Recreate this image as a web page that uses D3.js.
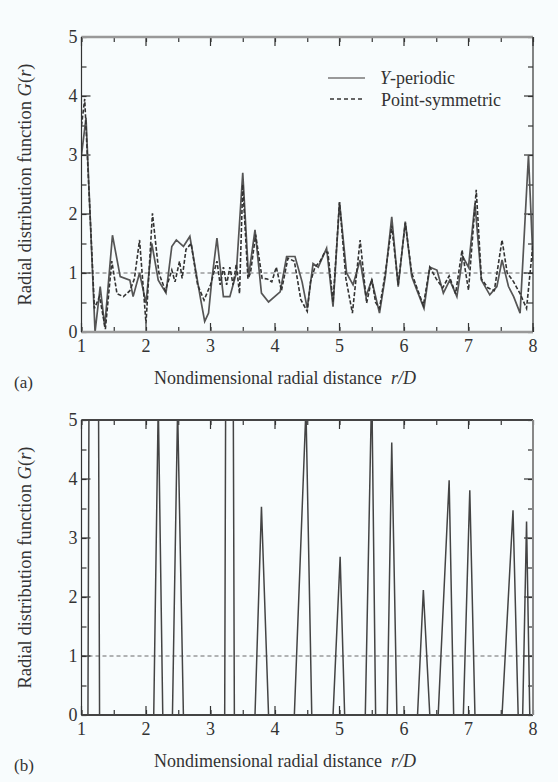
<!DOCTYPE html>
<html><head><meta charset="utf-8">
<script src="https://cdn.jsdelivr.net/npm/d3@7"></script>
<style>
html,body{margin:0;padding:0;background:#f8fcfd;}
svg{display:block;}
text{font-family:"Liberation Serif","DejaVu Serif",serif;fill:#333;}
</style></head>
<body>
<svg id="chart" width="558" height="782"></svg>
<script>
// Panel (a): Y-periodic (solid)
const rYper = [1.0,1.07,1.21,1.29,1.36,1.48,1.6,1.75,1.8,1.9,2.0,2.09,2.19,2.31,2.4,2.47,2.58,2.68,2.84,2.91,2.97,3.02,3.1,3.2,3.3,3.4,3.5,3.59,3.69,3.79,3.9,4.08,4.18,4.31,4.42,4.5,4.59,4.67,4.8,4.9,5.0,5.11,5.21,5.32,5.41,5.5,5.62,5.71,5.81,5.91,6.02,6.12,6.2,6.31,6.4,6.51,6.61,6.71,6.82,6.91,7.0,7.1,7.2,7.33,7.44,7.52,7.62,7.7,7.8,7.93,8.0];
const gYper = [3.0,3.63,0.0,0.77,0.09,1.64,0.94,0.88,0.6,1.0,0.49,1.5,0.88,0.66,1.45,1.56,1.45,1.62,0.6,0.18,0.32,0.88,1.59,0.6,0.6,1.0,2.7,0.94,1.73,0.66,0.51,0.68,1.28,1.28,0.85,0.4,1.16,1.1,1.42,0.43,2.2,1.0,0.8,1.22,0.6,0.88,0.32,0.94,1.95,0.77,1.87,0.94,0.71,0.4,1.1,1.05,0.66,0.88,0.6,1.28,1.1,2.18,0.88,0.63,0.77,1.22,0.77,0.6,0.32,3.0,1.2];
// Panel (a): Point-symmetric (dashed)
const rPsym = [1.0,1.05,1.2,1.28,1.37,1.47,1.55,1.65,1.75,1.82,1.9,2.0,2.1,2.2,2.3,2.4,2.45,2.52,2.56,2.62,2.7,2.8,2.9,3.0,3.05,3.1,3.15,3.2,3.25,3.3,3.35,3.4,3.45,3.5,3.58,3.62,3.7,3.8,3.88,3.95,4.02,4.1,4.2,4.3,4.4,4.5,4.55,4.62,4.7,4.77,4.82,4.9,5.0,5.1,5.2,5.32,5.42,5.5,5.56,5.62,5.71,5.81,5.91,6.02,6.12,6.2,6.3,6.4,6.5,6.6,6.7,6.8,6.9,6.95,7.0,7.12,7.2,7.3,7.4,7.52,7.6,7.7,7.8,7.9,8.0];
const gPsym = [3.5,3.95,0.4,0.6,0.05,1.2,0.65,0.6,0.7,0.9,1.56,0.15,2.01,1.0,0.7,1.05,0.85,1.2,0.91,1.4,1.5,0.8,0.54,0.8,1.0,1.2,0.8,1.1,0.8,1.1,0.8,1.15,0.65,2.5,0.9,1.0,1.65,0.91,0.9,0.85,1.1,0.7,1.25,1.2,0.55,0.35,0.85,1.1,1.2,1.35,1.35,0.5,2.2,0.9,0.32,1.56,0.49,0.9,0.5,0.4,1.0,1.8,0.8,1.85,1.0,0.75,0.45,1.1,0.9,0.75,0.95,0.65,1.39,1.05,0.71,2.41,0.9,0.75,0.7,1.56,1.0,0.85,0.65,0.4,1.5];
// Panel (b): single series (spikes, clipped at 5)
const rB = [1.0,1.10,1.19,1.28,2.12,2.19,2.26,2.41,2.49,2.58,3.22,3.29,3.37,3.69,3.79,3.90,4.30,4.48,4.57,4.90,5.01,5.08,5.40,5.50,5.56,5.74,5.81,5.89,6.21,6.30,6.40,6.53,6.70,6.77,6.92,7.02,7.10,7.52,7.69,7.77,7.84,7.90,7.95,8.0];
const gB = [0,0,30,0,0,5.3,0,0,5.2,0,0,25,0,0,3.53,0,0,5.2,0,0,2.68,0,0,5.6,0,0,4.62,0,0,2.12,0,0,3.98,0,0,3.81,0,0,3.47,0,0,3.28,0,0];

const xTicks = [1,2,3,4,5,6,7,8];
const yTicks = [0,1,2,3,4,5];
const legendLabels = ["Y-periodic","Point-symmetric"];

const svg = d3.select("#chart");
const X0 = 81.5, X1 = 533;

function panel(id, yTop, yBot, label) {
  const x = d3.scaleLinear().domain([1,8]).range([X0,X1]);
  const y = d3.scaleLinear().domain([0,5]).range([yBot,yTop]);
  const g = svg.append("g");
  g.append("clipPath").attr("id","clip"+id).append("rect")
    .attr("x",X0).attr("y",yTop).attr("width",X1-X0).attr("height",yBot-yTop);
  // reference line G=1
  g.append("line").attr("x1",X0).attr("x2",X1).attr("y1",y(1)).attr("y2",y(1))
    .attr("stroke","#444").attr("stroke-width",0.8).attr("stroke-dasharray","4,3");
  // axes (ticks inward)
  const half = d3.range(1,8.01,0.5);
  const bottomAx = d3.axisBottom(x).tickValues(half).tickSize(-5).tickFormat("");
  const topAx = d3.axisTop(x).tickValues(half).tickSize(-5).tickFormat("");
  const yHalf = d3.range(0,5.01,0.5);
  const leftAx = d3.axisLeft(y).tickValues(yHalf).tickSize(-5).tickFormat("");
  const rightAx = d3.axisRight(y).tickValues(yHalf).tickSize(-5).tickFormat("");
  const ax = [
    [bottomAx, `translate(0,${yBot})`],
    [topAx, `translate(0,${yTop})`],
    [leftAx, `translate(${X0},0)`],
    [rightAx, `translate(${X1},0)`]
  ];
  ax.forEach(([a,t]) => {
    const s = g.append("g").attr("transform",t).call(a);
    s.select(".domain").remove();
    s.selectAll("line").attr("stroke","#333").attr("stroke-width",1.2);
  });
  // longer major ticks
  const maj = g.append("g");
  xTicks.forEach(v => {
    maj.append("line").attr("x1",x(v)).attr("x2",x(v)).attr("y1",yBot).attr("y2",yBot-9).attr("stroke","#333").attr("stroke-width",1.2);
    maj.append("line").attr("x1",x(v)).attr("x2",x(v)).attr("y1",yTop).attr("y2",yTop+9).attr("stroke","#333").attr("stroke-width",1.2);
  });
  yTicks.forEach(v => {
    maj.append("line").attr("x1",X0).attr("x2",X0+9).attr("y1",y(v)).attr("y2",y(v)).attr("stroke","#333").attr("stroke-width",1.2);
    maj.append("line").attr("x1",X1).attr("x2",X1-9).attr("y1",y(v)).attr("y2",y(v)).attr("stroke","#333").attr("stroke-width",1.2);
  });
  // tick labels
  g.selectAll(".xl").data(xTicks).enter().append("text")
    .attr("x",d=>x(d)).attr("y",yBot+20).attr("text-anchor","middle")
    .attr("font-size",18).text(d=>d);
  g.selectAll(".yl").data(yTicks).enter().append("text")
    .attr("x",X0-4).attr("y",d=>y(d)+6).attr("text-anchor","end")
    .attr("font-size",18).text(d=>d);
  // titles
  const xt = g.append("text").attr("x",285).attr("y",yBot+52).attr("text-anchor","middle").attr("font-size",18);
  xt.append("tspan").text("Nondimensional radial distance\u2002");
  xt.append("tspan").attr("font-style","italic").text("r/D");
  const yc = (yTop+yBot)/2;
  const yt = g.append("text").attr("transform",`translate(31,${yc}) rotate(-90)`).attr("text-anchor","middle").attr("font-size",18.5);
  yt.append("tspan").text("Radial distribution function ");
  yt.append("tspan").attr("font-style","italic").text("G");
  yt.append("tspan").text("(");
  yt.append("tspan").attr("font-style","italic").text("r");
  yt.append("tspan").text(")");
  g.append("text").attr("x",14).attr("y",yBot+56).attr("font-size",17).text(label);
  return {g,x,y};
}

// Panel (a)
const A = panel("a",37,332,"(a)");
const lineA = d3.line().x(d=>A.x(d[0])).y(d=>A.y(d[1]));
const plotA = A.g.append("g").attr("clip-path","url(#clipa)");
plotA.append("path").datum(d3.zip(rYper,gYper)).attr("d",lineA)
  .attr("fill","none").attr("stroke","#555").attr("stroke-width",1.7);
plotA.append("path").datum(d3.zip(rPsym,gPsym)).attr("d",lineA)
  .attr("fill","none").attr("stroke","#333").attr("stroke-width",1.6).attr("stroke-dasharray","4,2");
// frame (a)
A.g.append("line").attr("x1",X0).attr("x2",X1).attr("y1",37).attr("y2",37).attr("stroke","#999").attr("stroke-width",2.5);
A.g.append("line").attr("x1",X0).attr("x2",X1).attr("y1",332).attr("y2",332).attr("stroke","#999").attr("stroke-width",2.5);
A.g.append("line").attr("x1",X0).attr("x2",X0).attr("y1",37).attr("y2",332).attr("stroke","#333").attr("stroke-width",1.2);
A.g.append("line").attr("x1",X1).attr("x2",X1).attr("y1",37).attr("y2",332).attr("stroke","#333").attr("stroke-width",1.2);
// legend
const lg = A.g.append("g");
lg.append("line").attr("x1",328).attr("x2",365).attr("y1",78).attr("y2",78).attr("stroke","#999").attr("stroke-width",1.8);
lg.append("line").attr("x1",330).attr("x2",365).attr("y1",99).attr("y2",99).attr("stroke","#666").attr("stroke-width",1.8).attr("stroke-dasharray","4,3");
const t1 = lg.append("text").attr("x",380).attr("y",84).attr("font-size",18);
t1.append("tspan").attr("font-style","italic").text(legendLabels[0].slice(0,1));
t1.append("tspan").text(legendLabels[0].slice(1));
lg.append("text").attr("x",381).attr("y",106).attr("font-size",18).text(legendLabels[1]);

// Panel (b)
const B = panel("b",420,715,"(b)");
const lineB = d3.line().x(d=>B.x(d[0])).y(d=>B.y(d[1]));
B.g.append("g").attr("clip-path","url(#clipb)").append("path").datum(d3.zip(rB,gB)).attr("d",lineB)
  .attr("fill","none").attr("stroke","#444").attr("stroke-width",1.5);
B.g.append("line").attr("x1",X0).attr("x2",X1).attr("y1",420).attr("y2",420).attr("stroke","#444").attr("stroke-width",2);
B.g.append("line").attr("x1",X0).attr("x2",X1).attr("y1",715).attr("y2",715).attr("stroke","#444").attr("stroke-width",2);
B.g.append("line").attr("x1",X0).attr("x2",X0).attr("y1",420).attr("y2",715).attr("stroke","#333").attr("stroke-width",1.2);
B.g.append("line").attr("x1",X1).attr("x2",X1).attr("y1",420).attr("y2",715).attr("stroke","#888").attr("stroke-width",2);
</script>
</body></html>
